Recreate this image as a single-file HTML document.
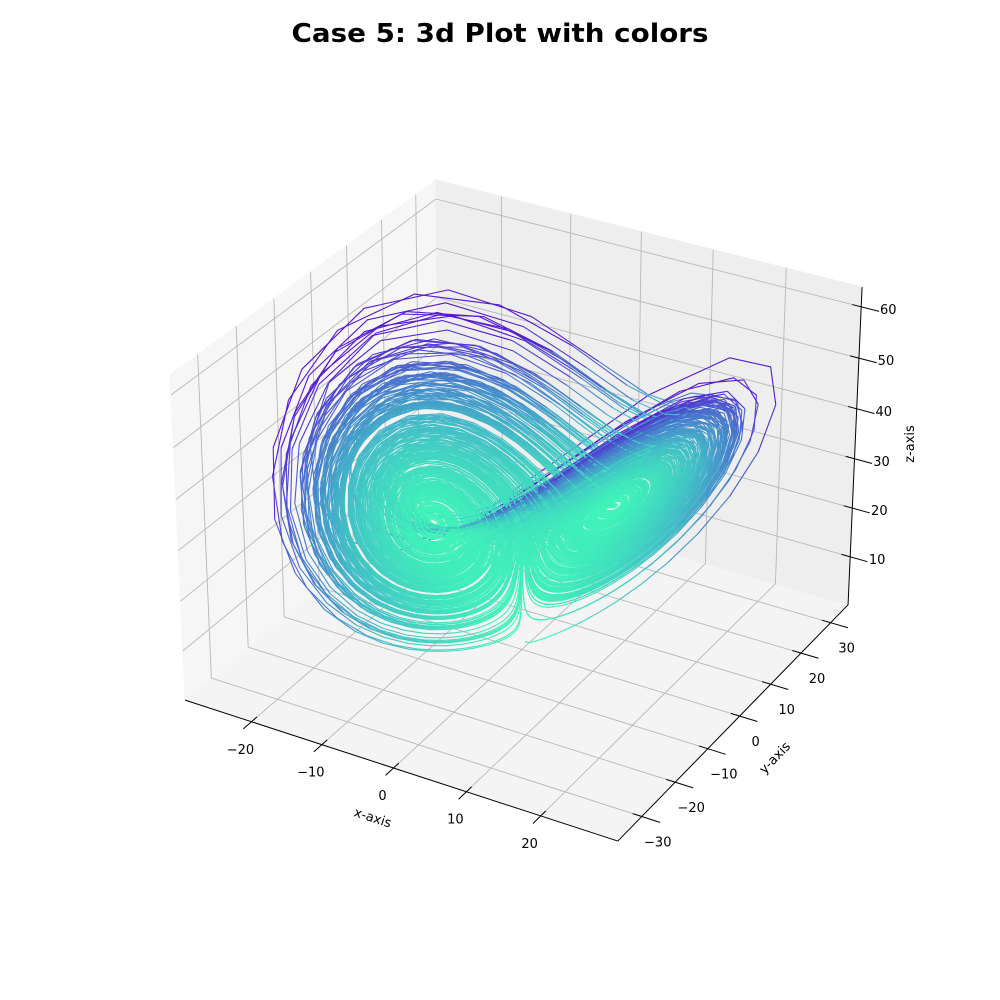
<!DOCTYPE html>
<html><head><meta charset="utf-8"><style>
html,body{margin:0;padding:0;background:#fff;overflow:hidden;}
svg{display:block;font-family:"DejaVu Sans","Liberation Sans",sans-serif;}
</style></head><body>
<svg id="chart" width="1000" height="1000" viewBox="0 0 1000 1000" xmlns="http://www.w3.org/2000/svg" overflow="hidden">
<rect width="1000" height="1000" fill="#fff"/>
<text x="500" y="42" text-anchor="middle" font-size="26" font-weight="bold" textLength="417" lengthAdjust="spacingAndGlyphs">Case 5: 3d Plot with colors</text>
<g id="panes"></g>
<g id="grid"></g>
<g id="axes"></g>
<g id="data"></g>
<text x="373" y="822" font-size="13" text-anchor="middle" transform="rotate(18 373 817)">x-axis</text>
<text x="775" y="762" font-size="13" text-anchor="middle" transform="rotate(-46 775 758)">y-axis</text>
<text x="910" y="448" font-size="13" text-anchor="middle" transform="rotate(-90 910 444)">z-axis</text>
</svg>
<script>
// ---- data / parameters ----
const lorenzParams = [10, 28, 2.667];   // sigma, rho, beta
const initialState = [0, 1, 1.05];
const stepSizes = [0.022, 0.021, 0.02, 0.02];   // tried in order (Euler)
const stepCounts = [20000, 20000, 20000, 10000];
const xLimits = [-29.6, 30.2];
const yLimits = [-37.0, 36.0];
const zLimits = [0.0, 63.8];
const xTicks = [-20, -10, 0, 10, 20];
const yTicks = [-30, -20, -10, 0, 10, 20, 30];
const zTicks = [10, 20, 30, 40, 50, 60];

const NS = "http://www.w3.org/2000/svg";
const calib = [
 [0,0,0,185,700],[1,0,0,618,841],[1,1,0,848,605],
 [0,0,1,170,375],[0,1,1,436,180],[1,1,1,862,287]
];
function solveDLT(){
  const A=[],b=[];
  for(const [X,Y,Z,u,v] of calib){
    A.push([X,Y,Z,1,0,0,0,0,-u*X,-u*Y,-u*Z]);b.push(u);
    A.push([0,0,0,0,X,Y,Z,1,-v*X,-v*Y,-v*Z]);b.push(v);
  }
  const n=11,M=[];
  for(let i=0;i<n;i++){M.push(new Array(n+1).fill(0));
    for(let j=0;j<n;j++){let s=0;for(let k=0;k<A.length;k++)s+=A[k][i]*A[k][j];M[i][j]=s;}
    let s=0;for(let k=0;k<A.length;k++)s+=A[k][i]*b[k];M[i][n]=s;}
  for(let i=0;i<n;i++){let p=i;for(let r=i+1;r<n;r++)if(Math.abs(M[r][i])>Math.abs(M[p][i]))p=r;
    [M[i],M[p]]=[M[p],M[i]];
    for(let r=0;r<n;r++){if(r===i)continue;const f=M[r][i]/M[i][i];for(let c=i;c<=n;c++)M[r][c]-=f*M[i][c];}}
  return M.map((row,i)=>row[n]/row[i]);
}
const P=solveDLT();
function proj(x,y,z){
  const X=(x-xLimits[0])/(xLimits[1]-xLimits[0]);
  const Y=(y-yLimits[0])/(yLimits[1]-yLimits[0]);
  const Z=(z-zLimits[0])/(zLimits[1]-zLimits[0]);
  const w=P[8]*X+P[9]*Y+P[10]*Z+1;
  return [(P[0]*X+P[1]*Y+P[2]*Z+P[3])/w,(P[4]*X+P[5]*Y+P[6]*Z+P[7])/w];
}
const [x0,x1]=xLimits,[y0,y1]=yLimits,[z0,z1]=zLimits;
function poly(g,pts,fill,name){
  const el=document.createElementNS(NS,'polygon');
  el.setAttribute('points',pts.map(p=>proj(...p).map(v=>v.toFixed(2)).join(',')).join(' '));
  el.setAttribute('fill',fill);el.setAttribute('stroke',fill);
  
  
  g.appendChild(el);
}
function line(g,a,b,color,w,name){
  const p=proj(...a),q=proj(...b);
  const el=document.createElementNS(NS,'line');
  el.setAttribute('x1',p[0]);el.setAttribute('y1',p[1]);el.setAttribute('x2',q[0]);el.setAttribute('y2',q[1]);
  el.setAttribute('stroke',color);el.setAttribute('stroke-width',w);
  
  
  g.appendChild(el);
}
const panes=document.getElementById('panes');
poly(panes,[[x0,y0,z0],[x1,y0,z0],[x1,y1,z0],[x0,y1,z0]],'#f4f4f4','floor-pane');
poly(panes,[[x0,y0,z0],[x0,y1,z0],[x0,y1,z1],[x0,y0,z1]],'#f6f6f6','left-pane');
poly(panes,[[x0,y1,z0],[x1,y1,z0],[x1,y1,z1],[x0,y1,z1]],'#eeeeee','back-pane');
const grid=document.getElementById('grid');
const gc='#b8b8b8';
for(const t of xTicks){line(grid,[t,y0,z0],[t,y1,z0],gc,0.9,'x-grid-floor');line(grid,[t,y1,z0],[t,y1,z1],gc,0.9,'x-grid-back');}
for(const t of yTicks){line(grid,[x0,t,z0],[x1,t,z0],gc,0.9,'y-grid-floor');line(grid,[x0,t,z0],[x0,t,z1],gc,0.9,'y-grid-left');}
for(const t of zTicks){line(grid,[x0,y0,t],[x0,y1,t],gc,0.9,'z-grid-left');line(grid,[x0,y1,t],[x1,y1,t],gc,0.9,'z-grid-back');}
const axes=document.getElementById('axes');
line(axes,[x0,y0,z0],[x1,y0,z0],'#000',1,'x-axis-line');
line(axes,[x1,y0,z0],[x1,y1,z0],'#000',1,'y-axis-line');
line(axes,[x1,y1,z0],[x1,y1,z1],'#000',1,'z-axis-line');
function label(txt,x,y,name){
  const el=document.createElementNS(NS,'text');
  el.setAttribute('x',x);el.setAttribute('y',y);el.setAttribute('font-size','13');el.setAttribute('text-anchor','middle');
  el.textContent=txt;
  
  
  axes.appendChild(el);
}
const fmt=v=>v<0?'\u2212'+Math.abs(v):String(v);
const xr=x1-x0,yr=y1-y0;
for(const t of xTicks){line(axes,[t,y0+0.02*yr,z0],[t,y0-0.03*yr,z0],'#000',1,'x-tick');
  const p=proj(t,y0,z0);label(fmt(t),p[0]-11,p[1]+32,'x-tick-label');}
for(const t of yTicks){line(axes,[x1-0.02*xr,t,z0],[x1+0.04*xr,t,z0],'#000',1,'y-tick');
  const p=proj(x1,t,z0);label(fmt(t),p[0]+16,p[1]+30,'y-tick-label');}
for(const t of zTicks){line(axes,[x1-0.02*xr,y1,t],[x1+0.04*xr,y1,t],'#000',1,'z-tick');
  const p=proj(x1,y1,t);label(fmt(t),p[0]+27,p[1]+7,'z-tick-label');}

// ---- trajectory (Euler integration) ----
function integrate(dt, steps){
  const [sg,rh,bt]=lorenzParams;
  const xs=[initialState[0]],ys=[initialState[1]],zs=[initialState[2]],sp=[];
  for(let i=0;i<steps;i++){
    const x=xs[i],y=ys[i],z=zs[i];
    const dx=sg*(y-x),dy=rh*x-y-x*z,dz=x*y-bt*z;
    const nx=x+dt*dx,ny=y+dt*dy,nz=z+dt*dz;
    if(!isFinite(nx)||Math.abs(nx)>32||nz>64||nz<-2) return null;
    sp.push(Math.sqrt(dx*dx+dy*dy+dz*dz));
    xs.push(nx);ys.push(ny);zs.push(nz);
  }
  return {xs,ys,zs,sp};
}
let traj=null;
for(let k=0;k<stepSizes.length&&!traj;k++) traj=integrate(stepSizes[k],stepCounts[k]);
const {xs,ys,zs,sp}=traj;
const sorted=sp.slice().sort((a,b)=>a-b);
const smin=sorted[Math.floor(sorted.length*0.02)],smax=sorted[Math.floor(sorted.length*0.998)];
const stops=[[0,[64,245,185]],[0.35,[66,188,199]],[0.65,[72,118,205]],[1,[85,25,208]]];
function cmap(t){
  for(let i=1;i<stops.length;i++){if(t<=stops[i][0]){const a=stops[i-1],b=stops[i];const f=(t-a[0])/(b[0]-a[0]);
    return 'rgb('+a[1].map((c,k)=>Math.round(c+(b[1][k]-c)*f)).join(',')+')';}}
  return 'rgb(85,25,208)';
}
const NB=48;
const dataG=document.getElementById('data');
let curBin=-1,pts=[];
function flush(){
  if(pts.length<2)return;
  const el=document.createElementNS(NS,'polyline');
  el.setAttribute('points',pts.join(' '));el.setAttribute('fill','none');
  el.setAttribute('stroke',cmap(curBin/(NB-1)));el.setAttribute('stroke-width','1.1');
  el.setAttribute('stroke-linejoin','round');
  
  
  dataG.appendChild(el);
}
for(let i=0;i<sp.length;i++){
  let t=(sp[i]-smin)/(smax-smin);t=Math.pow(Math.max(0,Math.min(1,t)),1.1);
  const bin=Math.min(NB-1,Math.round(t*(NB-1)));
  const a=proj(xs[i],ys[i],zs[i]).map(v=>v.toFixed(1)).join(',');
  const b=proj(xs[i+1],ys[i+1],zs[i+1]).map(v=>v.toFixed(1)).join(',');
  if(bin!==curBin){flush();curBin=bin;pts=[a];}
  pts.push(b);
}
flush();
</script>
</body></html>
